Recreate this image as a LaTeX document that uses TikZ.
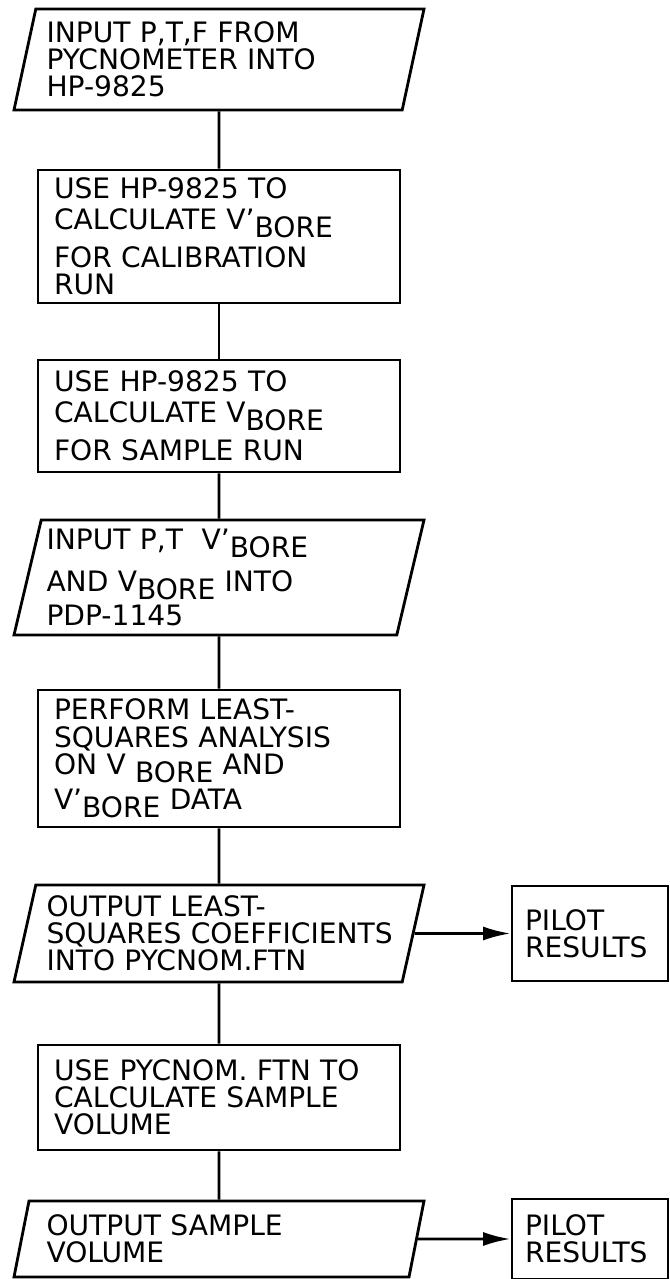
\documentclass[tikz,border=0pt]{standalone}
\usepackage{fontspec}
\setmainfont{DejaVu Sans}
\usetikzlibrary{shapes.geometric,arrows.meta}

\newcommand{\lowr}[1]{\raisebox{-0.3em}{#1}}

\tikzset{
	procbox/.style={draw, minimum width=7.24cm, text width=6.6cm, align=left, inner xsep=0.32cm},
	iobox/.style={draw, trapezium, trapezium left angle=76, trapezium right angle=104, trapezium stretches body, minimum width=8.2cm, text width=6.9cm, align=left, inner xsep=0.1cm},
	pilotbox/.style={draw, minimum width=3.12cm, text width=2.6cm, align=left, inner xsep=0.26cm},
}

\begin{document}
\begin{tikzpicture}[font=\fontsize{16}{15.5}\selectfont, line width=1.6pt]

\useasboundingbox (0,0) rectangle (13.4,25.58);

\node[iobox, minimum height=2.02cm] (v1) at (4.38,24.39) {INPUT P,T,F FROM\\PYCNOMETER INTO\\HP-9825};
\node[procbox, minimum height=2.66cm] (v2) at (4.38,20.85) {USE HP-9825 TO\\[2pt]CALCULATE V'\lowr{BORE}\\[4pt]FOR CALIBRATION\\RUN};
\node[procbox, minimum height=2.24cm] (v3) at (4.38,17.26) {USE HP-9825 TO\\[2pt]CALCULATE V\lowr{BORE}\\[4pt]FOR SAMPLE RUN};
\node[iobox, minimum height=2.30cm] (v4) at (4.38,14.03) {INPUT P,T\ \ V'\lowr{BORE}\\[6pt]AND V\lowr{BORE} INTO\\[2pt]PDP-1145};
\node[procbox, minimum height=2.74cm] (v5) at (4.38,10.41) {PERFORM LEAST-\\SQUARES ANALYSIS\\ON V \lowr{BORE} AND\\[2pt]V'\lowr{BORE} DATA};
\node[iobox, minimum height=1.94cm] (v6) at (4.38,6.91) {OUTPUT LEAST-\\\mbox{SQUARES COEFFICIENTS}\\INTO PYCNOM.FTN};
\node[procbox, minimum height=2.10cm] (v7) at (4.38,3.63) {USE PYCNOM. FTN TO\\CALCULATE SAMPLE\\VOLUME};
\node[iobox, minimum height=1.52cm] (v8) at (4.38,0.80) {OUTPUT SAMPLE\\VOLUME};

\node[pilotbox, minimum height=1.90cm] (p1) at (11.8,6.91) {PILOT\\RESULTS};
\node[pilotbox, minimum height=1.60cm] (p2) at (11.8,0.80) {PILOT\\RESULTS};

\draw (v1) edge (v2);
\draw (v2) edge (v3);
\draw (v3) edge (v4);
\draw (v4) edge (v5);
\draw (v5) edge (v6);
\draw (v6) edge (v7);
\draw (v7) edge (v8);

\draw [-{Latex[length=5.5mm,width=2.8mm]}] (v6) edge (p1);
\draw [-{Latex[length=5.5mm,width=2.8mm]}] (v8) edge (p2);
\end{tikzpicture}
\end{document}
